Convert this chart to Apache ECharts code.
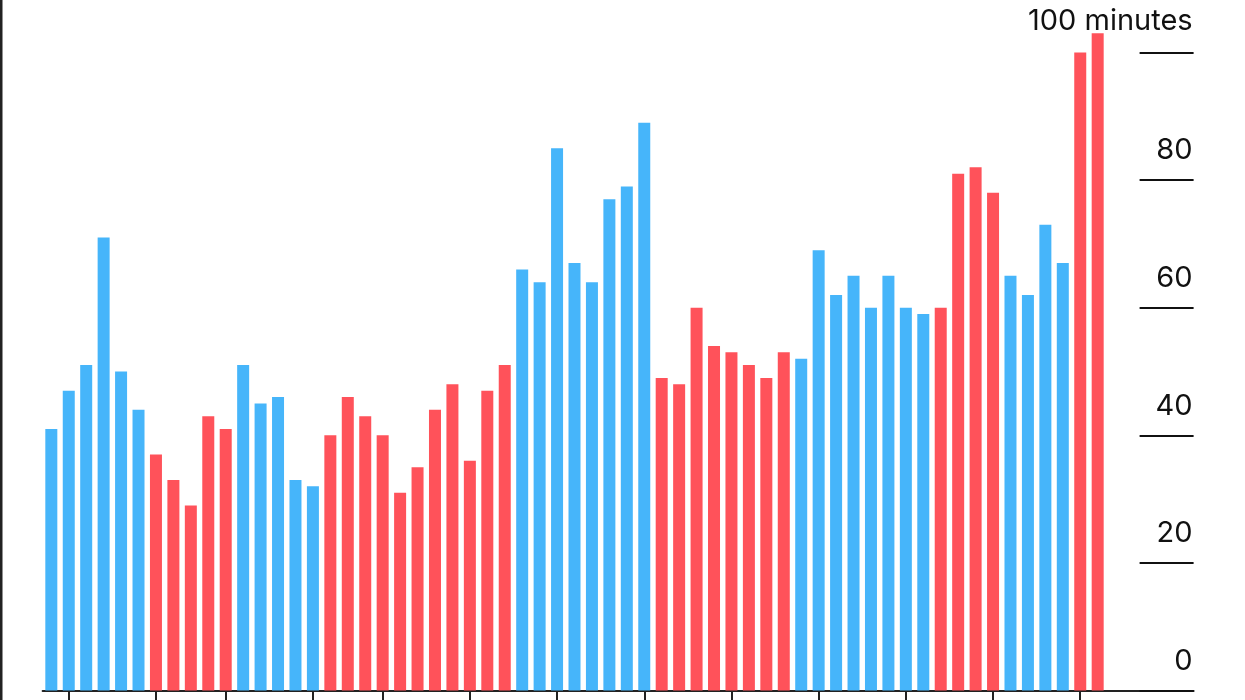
<!DOCTYPE html>
<html>
<head>
<meta charset="utf-8">
<script src="https://cdn.jsdelivr.net/npm/echarts@6/dist/echarts.min.js"></script>
<style>
  html, body { margin: 0; padding: 0; background: #ffffff; }
  #chart { width: 1245px; height: 700px; }
</style>
</head>
<body>
<div id="chart"></div>
<script>
const years = [
  '1964','1965','1966','1967','1968','1969','1970',
  '1971','1972','1974','1975',
  '1976','1977','1978','1979','1980',
  '1982','1983','1984','1985','1986','1987','1988','1989','1990','1991','1992',
  '1993','1994','1995','1996','1997','1998','1999','2000',
  '2001','2002','2003','2004','2005','2006','2007','2008',
  '2009','2010','2011','2012','2013','2014','2015','2016',
  '2017','2018','2019','2020',
  '2021','2022','2023','2024',
  '2025','2026'
];
const minutes = [
  41, 47, 51, 71, 50, 44,
  37, 33, 29, 43, 41,
  51, 45, 46, 33, 32,
  40, 46, 43, 40, 31, 35, 44, 48, 36, 47, 51,
  66, 64, 85, 67, 64, 77, 79, 89,
  49, 48, 60, 54, 53, 51, 49, 53,
  52, 69, 62, 65, 60, 65, 60, 59,
  60, 81, 82, 78,
  65, 62, 73, 67,
  100, 103
];
const party = [
  'D','D','D','D','D','D',
  'R','R','R','R','R',
  'D','D','D','D','D',
  'R','R','R','R','R','R','R','R','R','R','R',
  'D','D','D','D','D','D','D','D',
  'R','R','R','R','R','R','R','R',
  'D','D','D','D','D','D','D','D',
  'R','R','R','R',
  'D','D','D','D',
  'R','R'
];
const yTicks = [0, 20, 40, 60, 80, 100];
const partyColors = { D: '#46B5FA', R: '#FF525A' };

const chart = echarts.init(document.getElementById('chart'), null, { renderer: 'canvas' });
const FONT = 'Inter, "Liberation Sans", Arial, sans-serif';

chart.setOption({
  backgroundColor: '#ffffff',
  animation: false,
  grid: { left: 42.6, right: 51.4, top: 52.5, bottom: 9.5, containLabel: false },
  xAxis: {
    type: 'category',
    data: years,
    max: 65,
    boundaryGap: true,
    axisLine: { show: true, lineStyle: { color: '#222222', width: 2 } },
    axisTick: {
      show: true,
      alignWithLabel: true,
      interval: function (idx) {
        return idx < years.length && Number(years[idx]) % 5 === 0;
      },
      length: 12,
      lineStyle: { color: '#222222', width: 2 }
    },
    axisLabel: { show: false },
    splitLine: { show: false }
  },
  yAxis: {
    type: 'value',
    position: 'right',
    min: yTicks[0],
    max: yTicks[yTicks.length - 1],
    interval: 20,
    axisLine: { show: false },
    splitLine: { show: false },
    axisTick: { show: true, inside: true, length: 54, lineStyle: { color: '#111111', width: 2 } },
    axisLabel: {
      inside: true,
      margin: 1,
      verticalAlign: 'bottom',
      lineHeight: 29,
      padding: [0, 0, 15, 0],
      fontSize: 29,
      fontFamily: FONT,
      color: '#111111',
      formatter: function (v) { return v === 100 ? '{top|100 minutes}' : String(v); },
      rich: {
        top: { fontSize: 29, fontFamily: FONT, color: '#111111', lineHeight: 29, padding: [0, 0, 3, 0] }
      }
    }
  },
  graphic: [
    { type: 'rect', left: 0, top: 0, shape: { width: 2.5, height: 700 }, style: { fill: '#222222' } }
  ],
  series: [{
    type: 'bar',
    barWidth: 12,
    clip: false,
    data: minutes.map(function (v, i) {
      return { value: v, itemStyle: { color: partyColors[party[i]] } };
    })
  }]
});
</script>
</body>
</html>
